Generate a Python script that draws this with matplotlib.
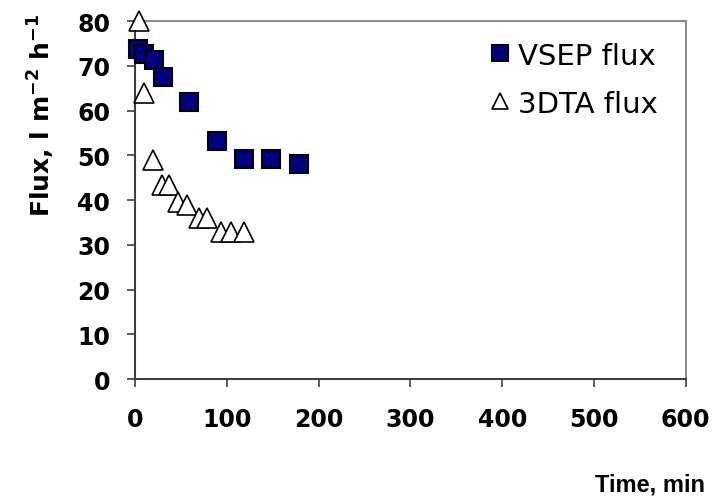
import matplotlib
matplotlib.use("Agg")
import matplotlib.pyplot as plt

# Permeate flux over time for two filtration set-ups
vsep_time = [3, 10, 20, 30, 59, 89, 118, 148, 179]
vsep_flux = [73.7, 72.6, 71.3, 67.6, 62.0, 53.1, 49.2, 49.2, 48.1]

dta_time = [4, 10, 19, 29, 37, 47, 56, 69, 78, 93, 104, 118]
dta_flux = [80.0, 63.9, 49.0, 43.3, 43.3, 39.6, 39.0, 35.9, 35.9, 32.8, 32.8, 32.8]

x_ticks = [0, 100, 200, 300, 400, 500, 600]
y_ticks = [0, 10, 20, 30, 40, 50, 60, 70, 80]

plt.rcParams['font.family'] = ['DejaVu Sans']

fig = plt.figure(figsize=(7.12, 5.02), dpi=100)
ax = fig.add_axes([0.19, 0.243, 0.773, 0.713])

ax.plot(vsep_time, vsep_flux, linestyle='none', marker='s', markersize=13,
        markerfacecolor='#000080', markeredgecolor='black', markeredgewidth=1.5,
        label='VSEP flux', clip_on=False, zorder=3)
ax.plot(dta_time, dta_flux, linestyle='none', marker='^', markersize=15,
        markerfacecolor='white', markeredgecolor='black', markeredgewidth=1.2,
        label='3DTA flux', clip_on=False, zorder=4)

ax.set_xlim(0, 600)
ax.set_ylim(0, 80)
ax.set_xticks(x_ticks)
ax.set_yticks(y_ticks)
ax.tick_params(axis='both', direction='out', length=6, width=1.2, color='#404040',
               labelsize=17)
ax.tick_params(axis='x', pad=14)
ax.tick_params(axis='y', pad=12)
for lab in ax.get_xticklabels() + ax.get_yticklabels():
    lab.set_fontweight('bold')

for side in ('left', 'bottom'):
    ax.spines[side].set_color('#404040')
    ax.spines[side].set_linewidth(1.5)
for side in ('top', 'right'):
    ax.spines[side].set_color('#8c8c8c')
    ax.spines[side].set_linewidth(1.5)

leg = ax.legend(loc='upper right', bbox_to_anchor=(0.97, 0.975), frameon=False,
                fontsize=21, handlelength=0.6, handletextpad=0.3,
                labelspacing=0.68, borderaxespad=0.0)
for h in leg.legend_handles:
    h.set_markersize(12)

fig.text(0.058, 0.771, 'Flux, l m$^{\\mathbf{-2}}$ h$^{\\mathbf{-1}}$', rotation=90,
         ha='center', va='center', fontsize=18, fontweight='bold')
fig.text(0.99, 0.034, 'Time, min', ha='right', va='center',
         fontsize=17, fontweight='bold', family=['Liberation Sans', 'DejaVu Sans'])

fig.savefig('out.png', dpi=100)
